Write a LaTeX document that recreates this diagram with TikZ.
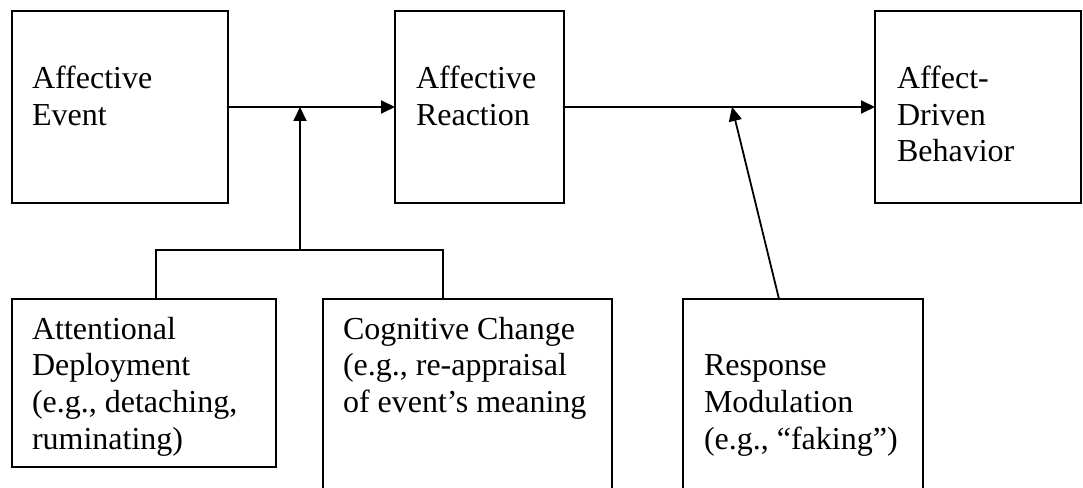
\documentclass[tikz,border=0pt]{standalone}
\usepackage{fontspec}
\setmainfont{Liberation Serif}
\usetikzlibrary{arrows.meta}
\begin{document}
\begin{tikzpicture}[x=1pt,y=1pt,
  box/.style={draw=black, line width=1.8pt, inner sep=0pt, outer sep=0pt, anchor=north west, fill=none},
  lbl/.style={anchor=north west, inner sep=0pt, outer sep=0pt, align=left, font=\fontsize{32}{36.7}\selectfont},
  conn/.style={draw=black, line width=1.8pt},
  arr/.style={conn, -{Triangle[length=14pt,width=13pt]}}]
\clip (0,0) rectangle (1083,487);
\fill[white] (0,0) rectangle (1083,487);
% top boxes
\node[box, minimum width=216pt, minimum height=192pt] (b1) at (12,476) {};
\node[box, minimum width=169pt, minimum height=192pt] (b2) at (395,476) {};
\node[box, minimum width=206pt, minimum height=192pt] (b3) at (875,476) {};
% bottom boxes
\node[box, minimum width=264pt, minimum height=168pt] (ad) at (12,188) {};
\node[box, minimum width=289pt, minimum height=220pt] (cc) at (323,188) {};
\node[box, minimum width=240pt, minimum height=220pt] (rm) at (683,188) {};
% texts
\node[lbl] (t1) at (32,421) {Affective\\Event};
\node[lbl] (t2) at (416,421) {Affective\\Reaction};
\node[lbl] (t3) at (897,421) {Affect-\\Driven\\Behavior};
\node[lbl] (t4) at (32,170) {Attentional\\Deployment\\(e.g., detaching,\\ruminating)};
\node[lbl] (t5) at (343,170) {Cognitive Change\\(e.g., re-appraisal\\of event’s meaning};
\node[lbl] (t6) at (704,132) {Response\\Modulation\\(e.g., “faking”)};
% connector points
\coordinate (j1) at (300,380);
\coordinate (j2) at (732,380);
\coordinate (adtop) at (156,188);
\coordinate (cctop) at (443,188);
\coordinate (bar) at (300,237);
\coordinate (rmtop) at (779,188);
% connectors
\draw[arr] (b1.east) -- (b2.west);
\draw[arr] (b2.east) -- (b3.west);
\draw[conn] (adtop) |- (bar) -| (cctop);
\draw[arr] (bar) -- (j1);
\draw[arr] (rmtop) -- (j2);
\end{tikzpicture}
\end{document}
